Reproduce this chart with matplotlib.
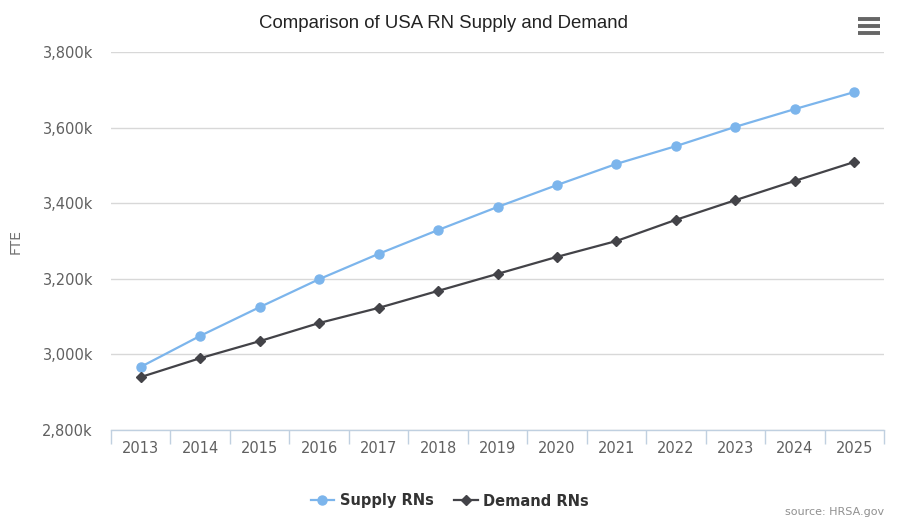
import matplotlib.pyplot as plt
from matplotlib.lines import Line2D
from matplotlib.ticker import FuncFormatter, MultipleLocator

# data (thousands of FTE)
years = [2013, 2014, 2015, 2016, 2017, 2018, 2019, 2020, 2021, 2022, 2023, 2024, 2025]
supply = [2967, 3049, 3125, 3199, 3266, 3329, 3390, 3448, 3504, 3551, 3602, 3649, 3694]
demand = [2940, 2990, 3035, 3083, 3123, 3168, 3213, 3258, 3300, 3356, 3408, 3459, 3509]

fig = plt.figure(figsize=(8.97, 5.19), dpi=100)
ax = fig.add_axes([111/897, 1 - 430/519, (884 - 111)/897, (430 - 52)/519])

x = list(range(len(years)))
ax.plot(x, supply, color='#7cb5ec', lw=1.6, marker='o', markersize=6.5,
        label='Supply RNs', zorder=3)
ax.plot(x, demand, color='#434348', lw=1.6, marker='D', markersize=4.8,
        label='Demand RNs', zorder=3)

ax.set_xlim(-0.5, len(years) - 0.5)
ax.set_ylim(2800, 3800)
ax.yaxis.set_major_locator(MultipleLocator(200))
ax.yaxis.set_major_formatter(FuncFormatter(lambda v, p: f"{int(v):,}k"))
ax.grid(axis='y', color='#d8d8d8', lw=1)
ax.set_axisbelow(True)

ax.set_xticks(x)
ax.set_xticklabels([str(y) for y in years])
ax.set_xticks([i - 0.5 for i in range(len(years) + 1)], minor=True)
ax.tick_params(axis='x', which='major', length=0, pad=8, labelsize=10.5, labelcolor='#606060')
ax.tick_params(axis='x', which='minor', length=10, width=1, color='#c0d0e0')
ax.tick_params(axis='y', length=0, pad=13, labelsize=10.5, labelcolor='#606060')

for s in ['top', 'right', 'left']:
    ax.spines[s].set_visible(False)
ax.spines['bottom'].set_color('#c0d0e0')
ax.spines['bottom'].set_linewidth(1)

ax.set_ylabel('FTE', color='#707070', fontsize=10, labelpad=14)
fig.text(443/897, 1 - 24/519, 'Comparison of USA RN Supply and Demand',
         ha='center', va='center', fontsize=13.4, color='#222222', family='Liberation Sans')

leg = fig.legend(loc='center', bbox_to_anchor=(450/897, 1 - 501/519), ncol=2,
                 frameon=False, handlelength=1.6, columnspacing=1.4, handletextpad=0.4,
                 prop={'weight': 'bold', 'size': 10.5})
for t in leg.get_texts():
    t.set_color('#333333')

# export menu icon
for yy in [19, 26, 33]:
    fig.add_artist(Line2D([858/897, 880/897], [1 - yy/519, 1 - yy/519],
                          color='#666666', lw=2.8, solid_capstyle='butt'))

fig.text(884/897, 1 - 512/519, 'source: HRSA.gov', ha='right', va='center',
         fontsize=8, color='#909090')

fig.savefig('out.png', dpi=100)
